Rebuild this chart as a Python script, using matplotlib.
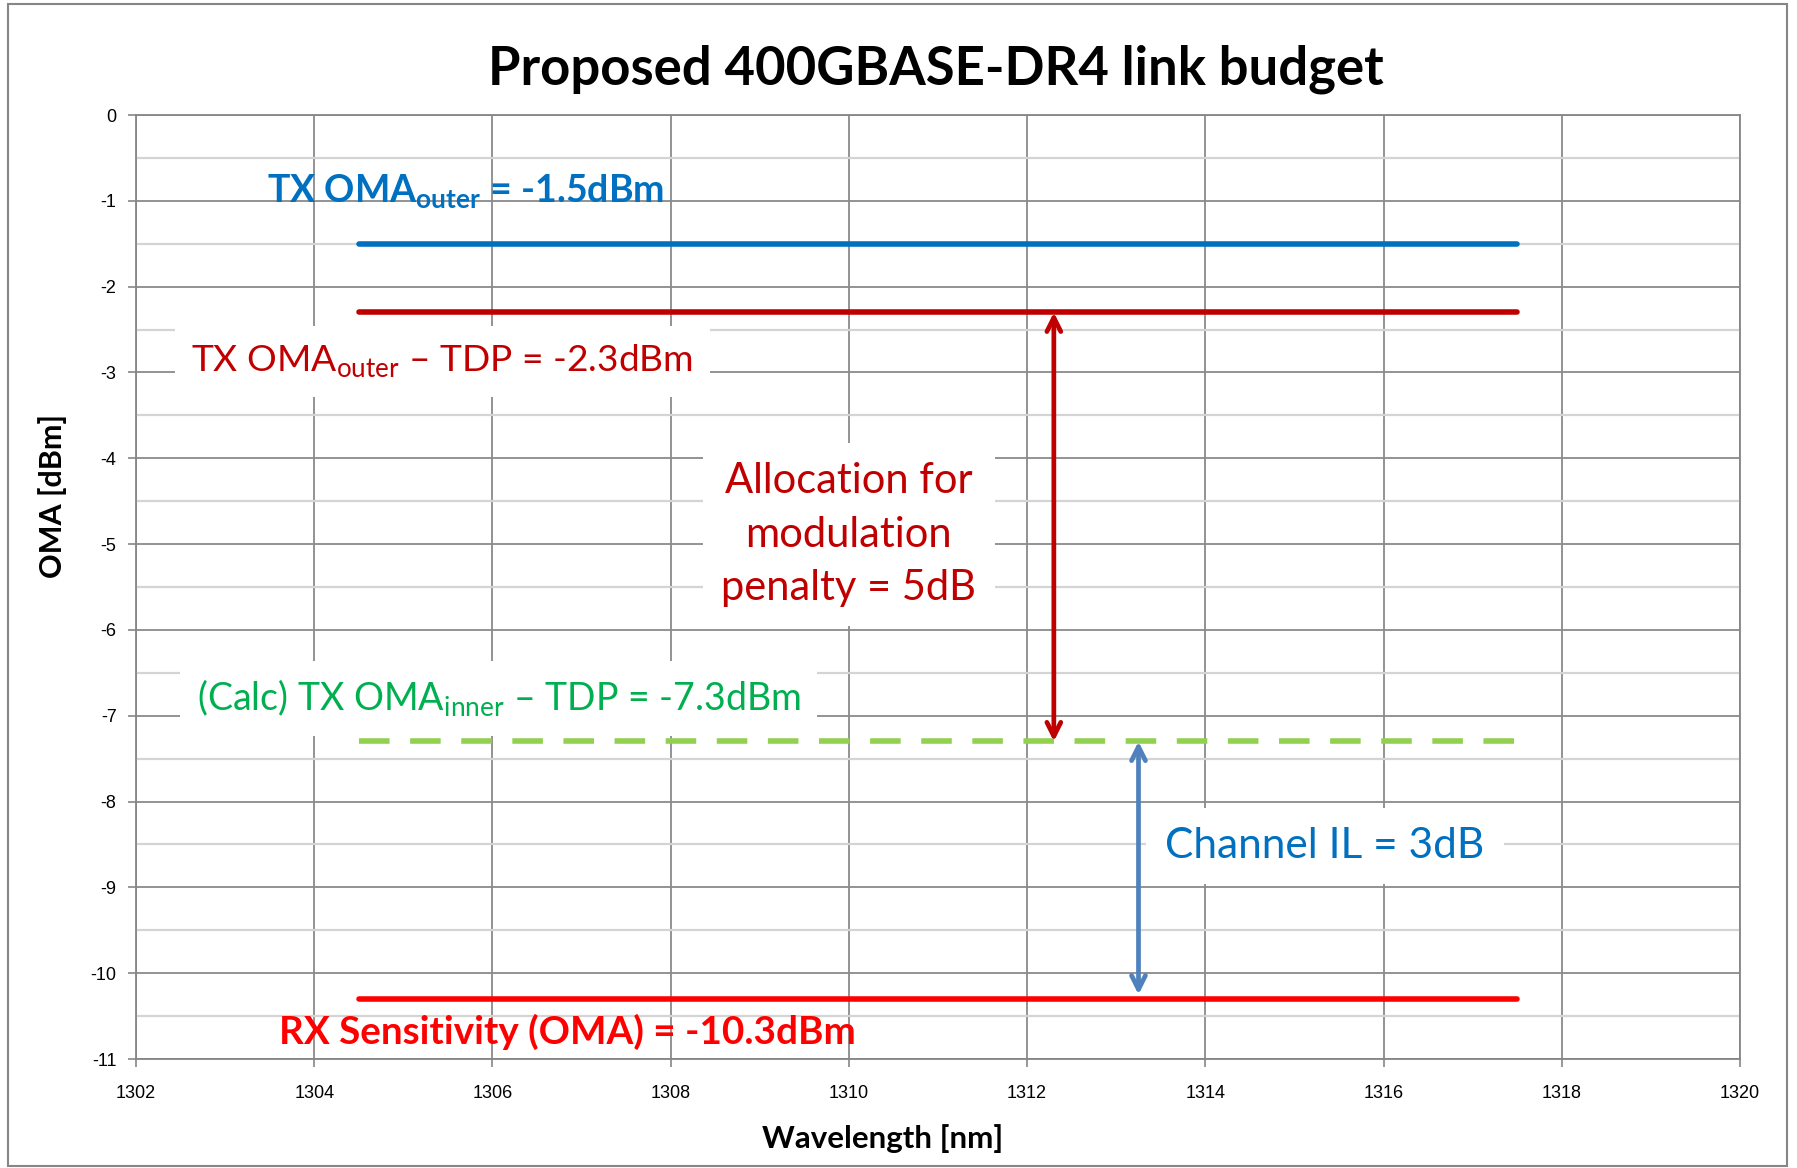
import matplotlib
matplotlib.use("Agg")
import matplotlib.pyplot as plt
from matplotlib.patches import Rectangle
from matplotlib.ticker import MultipleLocator, FixedLocator

# ---- data ----
wl_span = [1304.5, 1317.5]
tx_oma_outer = -1.5
tx_oma_outer_tdp = -2.3
tx_oma_inner_tdp = -7.3
rx_sens = -10.3
mod_penalty_x = 1312.3
channel_il_x = 1313.25
x_ticks = [1302, 1304, 1306, 1308, 1310, 1312, 1314, 1316, 1318, 1320]
y_ticks = [0, -1, -2, -3, -4, -5, -6, -7, -8, -9, -10, -11]
y_ticklabels = ["0", "-1", "-2", "-3", "-4", "-5", "-6", "-7", "-8", "-9", "-10", "-11"]

FONT = ["Lato", "DejaVu Sans"]
TICKFONT = ["Liberation Sans Narrow", "Liberation Sans", "DejaVu Sans"]
plt.rcParams["font.family"] = FONT
plt.rcParams["mathtext.fontset"] = "custom"
plt.rcParams["mathtext.rm"] = "Lato"
plt.rcParams["mathtext.bf"] = "Lato:bold"

W, H = 1797, 1168
fig = plt.figure(figsize=(W / 100, H / 100), dpi=100)
ax = fig.add_axes([136 / W, 1 - 1059 / H, (1740 - 136) / W, (1059 - 115) / H])

ax.set_xlim(1302, 1320)
ax.set_ylim(-11, 0)
ax.xaxis.set_major_locator(FixedLocator(x_ticks))
ax.yaxis.set_major_locator(FixedLocator(y_ticks))
ax.yaxis.set_minor_locator(MultipleLocator(0.5))
ax.set_xticklabels([str(t) for t in x_ticks], fontfamily=TICKFONT, fontsize=13)
ax.set_yticklabels(y_ticklabels, fontfamily=TICKFONT, fontsize=13)
ax.tick_params(axis="both", which="major", length=6, width=1.2, color="#868686", pad=13)
ax.tick_params(axis="y", which="major", pad=8)
ax.tick_params(axis="y", which="minor", length=0)
ax.grid(True, which="major", axis="both", color="#8a8a8a", lw=1.3)
ax.grid(True, which="minor", axis="y", color="#d4d4d4", lw=1.6)
ax.set_axisbelow(True)
for s in ax.spines.values():
    s.set_color("#868686")
    s.set_linewidth(1.3)

# ---- lines ----
ax.plot(wl_span, [tx_oma_outer] * 2, color="#0070C0", lw=4, solid_capstyle="round", zorder=3)
ax.plot(wl_span, [tx_oma_outer_tdp] * 2, color="#C00000", lw=4, solid_capstyle="round", zorder=3)
ax.plot(wl_span, [tx_oma_inner_tdp] * 2, color="#92D050", lw=4, dashes=(5.5, 3.7), zorder=3)
ax.plot(wl_span, [rx_sens] * 2, color="#FF0000", lw=4, solid_capstyle="round", zorder=3)

# ---- arrows ----
astyle = "<->,head_length=1.0,head_width=0.5"
ax.annotate("", xy=(mod_penalty_x, tx_oma_outer_tdp), xytext=(mod_penalty_x, tx_oma_inner_tdp),
            arrowprops=dict(arrowstyle=astyle, color="#C00000",
                            lw=3.4, shrinkA=0, shrinkB=0), zorder=4)
ax.annotate("", xy=(channel_il_x, tx_oma_inner_tdp), xytext=(channel_il_x, rx_sens + 0.05),
            arrowprops=dict(arrowstyle=astyle, color="#4F81BD",
                            lw=3.4, shrinkA=0, shrinkB=0), zorder=4)

# ---- text labels ----
box = dict(boxstyle="square,pad=0.45", fc="white", ec="none")
ax.text(1303.47, -0.9, "TX OMA$_{\\mathregular{outer}}$ = -1.5dBm", color="#0070C0",
        fontsize=27, fontweight="bold", va="center", ha="left", zorder=5)
ax.text(1302.62, -2.87, "TX OMA$_{\\mathregular{outer}}$ – TDP = -2.3dBm", color="#C00000",
        fontsize=26.7, va="center", ha="left", bbox=box, zorder=5)
ax.text(1310.0, -4.89, "Allocation for\nmodulation\npenalty = 5dB", color="#C00000",
        fontsize=30, va="center", ha="center", linespacing=1.5, bbox=box, zorder=5)
ax.text(1302.68, -6.8, "(Calc) TX OMA$_{\\mathregular{inner}}$ – TDP = -7.3dBm", color="#00B050",
        fontsize=27, va="center", ha="left", bbox=box, zorder=5)
ax.text(1313.55, -8.52, "Channel IL = 3dB", color="#0070C0",
        fontsize=30.5, va="center", ha="left", bbox=box, zorder=5)
ax.text(1303.6, -10.69, "RX Sensitivity (OMA) = -10.3dBm", color="#FF0000",
        fontsize=27.8, fontweight="bold", va="center", ha="left", zorder=5)

# ---- titles ----
fig.text(0.521, 0.941, "Proposed 400GBASE-DR4 link budget", fontsize=37.9, fontweight="bold",
         ha="center", va="center", color="#000000")
fig.text(0.029, 0.575, "OMA [dBm]", fontsize=22, fontweight="bold", rotation=90,
         ha="center", va="center")
fig.text(0.491, 0.025, "Wavelength [nm]", fontsize=22.5, fontweight="bold",
         ha="center", va="center")

# chart border
fig.patches.append(Rectangle((8 / W, 0.002), (1787 - 8) / W, (1162) / H, transform=fig.transFigure,
                             fill=False, ec="#868686", lw=1.5))

fig.savefig("out.png", dpi=100, facecolor="white")
